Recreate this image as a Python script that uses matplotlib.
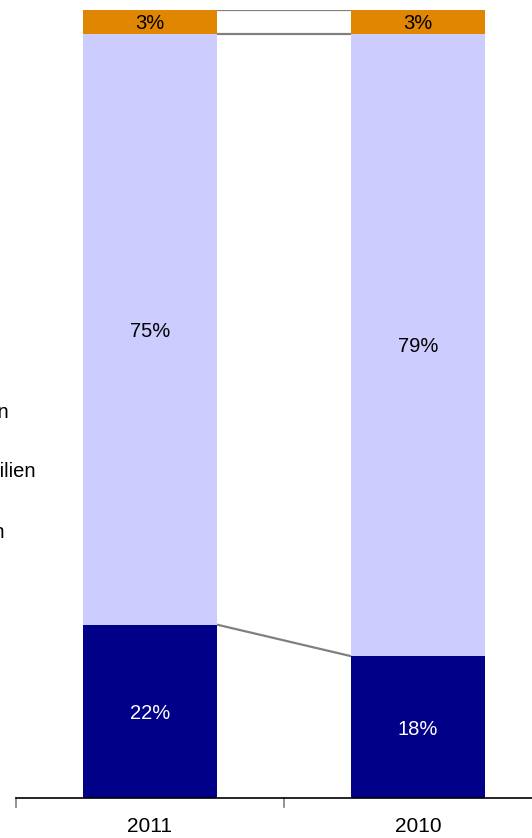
import matplotlib
matplotlib.use("Agg")
import matplotlib.pyplot as plt
import numpy as np

plt.rcParams['font.family'] = ['Liberation Sans', 'DejaVu Sans']

categories = ["2011", "2010"]
bottom_vals = [22, 18]
middle_vals = [75, 79]
top_vals = [3, 3]
colors = ["#000088", "#CCCCFF", "#E08600"]
legend_labels = ["Sonstigen", "Immobilien", "Aktien/Fonds/Anleihen"]

W, H = 532, 838
fig = plt.figure(figsize=(W / 100, H / 100), dpi=100)
ax = fig.add_axes([16 / W, 40 / H, 536 / W, 788 / H])

x = np.arange(len(categories))
width = 0.5
series = [bottom_vals, middle_vals, top_vals]
text_colors = ["white", "black", "black"]
base = np.zeros(len(categories))
for vals, c, tc in zip(series, colors, text_colors):
    v = np.array(vals, dtype=float)
    ax.bar(x, v, width, bottom=base, color=c, edgecolor='none', zorder=2)
    for xi, vi, bi in zip(x, v, base):
        ax.text(xi, bi + vi / 2, f"{int(vi)}%", ha='center', va='center_baseline',
                color=tc, fontsize=14.5, zorder=3)
    top = base + v
    ax.plot([x[0] + width / 2, x[1] - width / 2], [top[0], top[1]],
            color='#808080', lw=1.6, zorder=1, solid_capstyle='butt')
    base = top

ax.set_xlim(-0.5, 1.5)
ax.set_ylim(0, 100)
for s in ['top', 'right', 'left']:
    ax.spines[s].set_visible(False)
ax.spines['bottom'].set_linewidth(1.2)
ax.set_yticks([])
ax.set_xticks(x)
ax.set_xticklabels(categories, fontsize=15)
ax.tick_params(axis='x', length=0, pad=14)
for b in [-0.5, 0.5, 1.5]:
    ax.plot([b, b], [0, -1.1], color='#808080', lw=1.2, clip_on=False)

for lab, (xe, ye) in zip(legend_labels, [(9, 410), (36, 469), (5, 530)]):
    fig.text(xe / W, 1 - ye / H, lab, ha='right', va='center_baseline', fontsize=14.5)

fig.savefig("out.png", dpi=100)
